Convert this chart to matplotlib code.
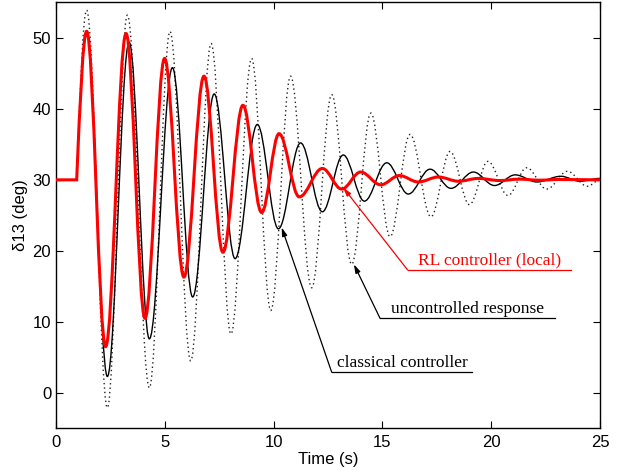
import matplotlib
matplotlib.use('Agg')
import matplotlib.pyplot as plt
from matplotlib.path import Path
from matplotlib.patches import PathPatch

# Extrema of each response (time in s, angle in deg)
rl_t = [0, 0.95, 1.41, 2.28, 3.22, 4.09, 4.99, 5.88, 6.80, 7.67, 8.59, 9.45, 10.25,
        11.18, 12.24, 13.13, 14.0, 14.92, 15.78, 16.65, 17.57, 18.5, 19.4, 20.4,
        21.3, 22.2, 23.1, 25]
rl_y = [30, 30, 50.9, 6.5, 50.6, 10.5, 47.1, 16.3, 44.6, 19.8, 40.5, 25.4, 36.5,
        27.6, 31.6, 28.7, 31.1, 29.3, 30.6, 29.7, 30.4, 29.8, 30.2, 29.9,
        30.1, 29.95, 30.05, 30]

cl_t = [0, 0.95, 1.41, 2.36, 3.36, 4.29, 5.35, 6.28, 7.27, 8.23, 9.25, 10.22, 11.24,
        12.24, 13.2, 14.17, 15.2, 16.19, 17.19, 18.15, 19.18, 20.15, 21.1, 22.1,
        23.2, 24.08, 25]
cl_y = [30, 30, 51.0, 2.3, 49.4, 7.6, 45.8, 13.5, 42.1, 18.9, 37.8, 23.1, 35.2,
        25.5, 33.5, 27.0, 32.4, 28.0, 31.5, 28.8, 31.1, 29.2, 30.7, 29.7,
        30.5, 29.8, 30.2]

un_t = [0, 0.95, 1.41, 2.36, 3.28, 4.29, 5.24, 6.19, 7.13, 8.04, 8.99, 9.87, 10.78,
        11.75, 12.67, 13.59, 14.47, 15.35, 16.27, 17.23, 18.11, 19.0, 19.85, 20.77,
        21.63, 22.55, 23.5, 24.42, 25]
un_y = [30, 30, 53.9, -2.1, 53.2, 0.7, 50.9, 4.5, 49.2, 8.3, 47.1, 11.6, 44.6,
        14.8, 42.0, 18.1, 39.4, 22.0, 36.4, 24.8, 34.0, 26.5, 32.6, 27.8,
        31.7, 28.7, 31.2, 29.1, 30.0]

x_ticks = [0, 5, 10, 15, 20, 25]
y_ticks = [0, 10, 20, 30, 40, 50]

labels = ["RL controller (local)", "uncontrolled response", "classical controller"]


def wave_path(ts, ys):
    verts = [(ts[0], ys[0])]
    codes = [Path.MOVETO]
    k = 0.3642
    for i in range(1, len(ts)):
        t0, y0, t1, y1 = ts[i - 1], ys[i - 1], ts[i], ys[i]
        dt = t1 - t0
        if i == 1:
            verts.append((t1, y1))
            codes.append(Path.LINETO)
            continue
        if i == 2:
            p1 = (t0 + dt / 3, y0 + 0.52 * (y1 - y0))
        else:
            p1 = (t0 + k * dt, y0)
        p2 = (t1 - k * dt, y1)
        verts += [p1, p2, (t1, y1)]
        codes += [Path.CURVE4] * 3
    return Path(verts, codes)


fig = plt.figure(figsize=(6.23, 4.73), dpi=100)
ax = fig.add_axes([0.0899, 0.0945, 0.8732, 0.9005])

ax.add_patch(PathPatch(wave_path(un_t, un_y), fill=False, edgecolor='#222222',
                       lw=1.0, linestyle=(0, (1, 2.2)), zorder=2))
ax.add_patch(PathPatch(wave_path(cl_t, cl_y), fill=False, edgecolor='black',
                       lw=1.0, zorder=3))
ax.add_patch(PathPatch(wave_path(rl_t, rl_y), fill=False, edgecolor='#ff0000',
                       lw=2.2, zorder=4))

ax.set_xlim(0, 25)
ax.set_ylim(-5, 55)
ax.set_xticks(x_ticks)
ax.set_yticks(y_ticks)

tick_font = 'Liberation Sans'
ax.tick_params(direction='in', top=True, right=True, length=5, width=0.8,
               labelsize=12)
ax.tick_params(axis='x', pad=5)
ax.tick_params(axis='y', pad=3.5)
for lab in ax.get_xticklabels() + ax.get_yticklabels():
    lab.set_fontfamily(tick_font)
for s in ax.spines.values():
    s.set_linewidth(1.0)

ax.set_xlabel('Time (s)', fontfamily=tick_font, fontsize=12, labelpad=1)
ax.set_ylabel('δ13 (deg)', fontfamily=tick_font, fontsize=12, labelpad=3)

serif = 'Liberation Serif'
afs = 12.5
# RL controller annotation
ax.annotate('', xy=(13.2, 28.9), xytext=(16.16, 17.3),
            arrowprops=dict(arrowstyle='-|>,head_length=0.5,head_width=0.15',
                            color='#ff0000', lw=0.9, shrinkA=0, shrinkB=0), zorder=5)
ax.plot([16.16, 23.67], [17.3, 17.3], color='#ff0000', lw=0.9, zorder=5)
ax.text(16.64, 18.1, labels[0], color='#ff0000', fontfamily=serif, fontsize=afs,
        ha='left', va='baseline')

# uncontrolled annotation
ax.annotate('', xy=(13.69, 18.1), xytext=(14.89, 10.5),
            arrowprops=dict(arrowstyle='-|>,head_length=0.5,head_width=0.15',
                            color='black', lw=0.9, shrinkA=0, shrinkB=0), zorder=5)
ax.plot([14.89, 22.92], [10.5, 10.5], color='black', lw=0.9, zorder=5)
ax.text(15.4, 11.3, labels[1], color='black', fontfamily=serif, fontsize=afs,
        ha='left', va='baseline')

# classical annotation
ax.annotate('', xy=(10.37, 23.3), xytext=(12.67, 2.9),
            arrowprops=dict(arrowstyle='-|>,head_length=0.5,head_width=0.15',
                            color='black', lw=0.9, shrinkA=0, shrinkB=0), zorder=5)
ax.plot([12.67, 19.13], [2.9, 2.9], color='black', lw=0.9, zorder=5)
ax.text(12.91, 3.6, labels[2], color='black', fontfamily=serif, fontsize=afs,
        ha='left', va='baseline')

fig.savefig('out.png', dpi=100)
